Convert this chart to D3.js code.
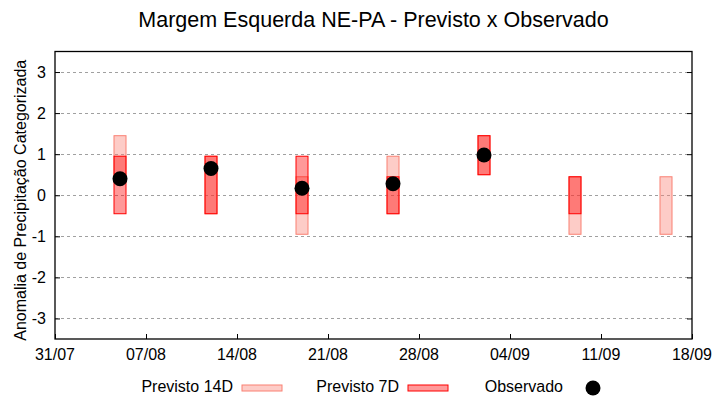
<!DOCTYPE html>
<html>
<head>
<meta charset="utf-8">
<script src="https://cdn.jsdelivr.net/npm/d3@7"></script>
<style>
    body { margin: 0; background: #fff; }
    text { font-family: "Liberation Sans", Arial, sans-serif; fill: #000; }
</style>
</head>
<body>
<svg id="chart" width="720" height="400"></svg>
<script>
// forecast dates (center of each box)
const dates     = ['2023-08-05', '2023-08-12', '2023-08-19', '2023-08-26', '2023-09-02', '2023-09-09', '2023-09-16'];
// 14-day forecast range [low, high]
const prev14Low  = [0.45, -0.45, -0.95, -0.45, 0.5, -0.95, -0.95];
const prev14High = [1.45,  0.95,  0.45,  0.95, 1.45, 0.45,  0.45];
// 7-day forecast range [low, high] (null = none)
const prev7Low   = [-0.45, -0.45, -0.45, -0.45, 0.5, -0.45, null];
const prev7High  = [ 0.95,  0.95,  0.95,  0.45, 1.45, 0.45, null];
// observed anomaly (null = none)
const observed   = [0.4, 0.65, 0.17, 0.28, 0.98, null, null];

const xTickDates = ['2023-07-31', '2023-08-07', '2023-08-14', '2023-08-21', '2023-08-28', '2023-09-04', '2023-09-11', '2023-09-18'];
const yTicks     = [-3, -2, -1, 0, 1, 2, 3];

const LEFT   = 55;
const RIGHT  = 692;
const TOP    = 51.5;
const BOTTOM = 339;
const BOX_W  = 12;

const parse = d3.timeParse('%Y-%m-%d');
const svg   = d3.select('#chart');

const x = d3.scaleUtc()
    .domain([parse('2023-07-31'), parse('2023-09-18')])
    .range([LEFT, RIGHT]);
const y = d3.scaleLinear()
    .domain([-3.5, 3.5])
    .range([BOTTOM, TOP]);

// title
svg.append('text')
    .attr('x', (LEFT + RIGHT) / 2)
    .attr('y', 27)
    .attr('text-anchor', 'middle')
    .style('font-size', '21.5px')
    .text('Margem Esquerda NE-PA - Previsto x Observado');

// grid lines
svg.append('g')
    .selectAll('line')
    .data(yTicks)
    .join('line')
    .attr('x1', LEFT)
    .attr('x2', RIGHT)
    .attr('y1', d => Math.round(y(d)) + 0.5)
    .attr('y2', d => Math.round(y(d)) + 0.5)
    .attr('stroke', '#a0a0a0')
    .attr('stroke-dasharray', '3,3');

// y axis (ticks inward, mirrored on right)
const yAxisL = svg.append('g')
    .attr('transform', `translate(${LEFT},0)`)
    .call(d3.axisRight(y).tickValues(yTicks).tickSize(5).tickFormat(''));
const yAxisR = svg.append('g')
    .attr('transform', `translate(${RIGHT},0)`)
    .call(d3.axisLeft(y).tickValues(yTicks).tickSize(5).tickFormat(''));
[yAxisL, yAxisR].forEach(g => {
    g.select('.domain').remove();
    g.selectAll('line').attr('stroke', '#000');
});

svg.append('g')
    .selectAll('text')
    .data(yTicks)
    .join('text')
    .attr('x', 46)
    .attr('y', d => y(d) + 6)
    .attr('text-anchor', 'end')
    .style('font-size', '16px')
    .text(d => d);

// x axis (ticks inward)
const xAxis = svg.append('g')
    .attr('transform', `translate(0,${BOTTOM})`)
    .call(d3.axisTop(x).tickValues(xTickDates.map(parse)).tickSize(5).tickFormat(''));
xAxis.select('.domain').remove();
xAxis.selectAll('line').attr('stroke', '#000');

svg.append('g')
    .selectAll('text')
    .data(xTickDates)
    .join('text')
    .attr('x', d => x(parse(d)))
    .attr('y', 360)
    .attr('text-anchor', 'middle')
    .style('font-size', '16px')
    .text(d => d3.utcFormat('%d/%m')(parse(d)));

// frame
svg.append('rect')
    .attr('x', LEFT)
    .attr('y', TOP)
    .attr('width', RIGHT - LEFT)
    .attr('height', BOTTOM - TOP)
    .attr('fill', 'none')
    .attr('stroke', '#000')
    .attr('stroke-width', 1.3);

// y label
svg.append('text')
    .attr('transform', `translate(26,${(TOP + BOTTOM) / 2 + 5}) rotate(-90)`)
    .attr('text-anchor', 'middle')
    .style('font-size', '16px')
    .text('Anomalia de Precipitação Categorizada');

// previsto 14D boxes
svg.append('g')
    .selectAll('rect')
    .data(dates.map((d, i) => ({ d, lo: prev14Low[i], hi: prev14High[i] })))
    .join('rect')
    .attr('x', p => x(parse(p.d)) - BOX_W / 2)
    .attr('y', p => y(p.hi))
    .attr('width', BOX_W)
    .attr('height', p => y(p.lo) - y(p.hi))
    .attr('fill', '#fa8072')
    .attr('fill-opacity', 0.4)
    .attr('stroke', '#fa8072')
    .attr('stroke-width', 1);

// previsto 7D boxes
svg.append('g')
    .selectAll('rect')
    .data(dates.map((d, i) => ({ d, lo: prev7Low[i], hi: prev7High[i] })).filter(p => p.lo !== null))
    .join('rect')
    .attr('x', p => x(parse(p.d)) - BOX_W / 2)
    .attr('y', p => y(p.hi))
    .attr('width', BOX_W)
    .attr('height', p => y(p.lo) - y(p.hi))
    .attr('fill', '#ff0000')
    .attr('fill-opacity', 0.4)
    .attr('stroke', '#ff0000')
    .attr('stroke-width', 1);

// observado
svg.append('g')
    .selectAll('circle')
    .data(dates.map((d, i) => ({ d, v: observed[i] })).filter(p => p.v !== null))
    .join('circle')
    .attr('cx', p => x(parse(p.d)))
    .attr('cy', p => y(p.v))
    .attr('r', 7.5)
    .attr('fill', '#000');

// legend
const legend = svg.append('g');
const legendItems = [
    { label: 'Previsto 14D', tx: 233, kind: 'box', fill: '#fa8072', stroke: '#fa8072', sx: 242 },
    { label: 'Previsto 7D',  tx: 399, kind: 'box', fill: '#ff0000', stroke: '#ff0000', sx: 408 },
    { label: 'Observado',    tx: 563, kind: 'dot', sx: 593 }
];
legendItems.forEach(it => {
    legend.append('text')
        .attr('x', it.tx)
        .attr('y', 392)
        .attr('text-anchor', 'end')
        .style('font-size', '16px')
        .text(it.label);
    if (it.kind === 'box') {
        legend.append('rect')
            .attr('x', it.sx)
            .attr('y', 385)
            .attr('width', 40)
            .attr('height', 6)
            .attr('fill', it.fill)
            .attr('fill-opacity', 0.4)
            .attr('stroke', it.stroke)
            .attr('stroke-width', 1);
    } else {
        legend.append('circle')
            .attr('cx', it.sx)
            .attr('cy', 388)
            .attr('r', 7.5)
            .attr('fill', '#000');
    }
});
</script>
</body>
</html>
